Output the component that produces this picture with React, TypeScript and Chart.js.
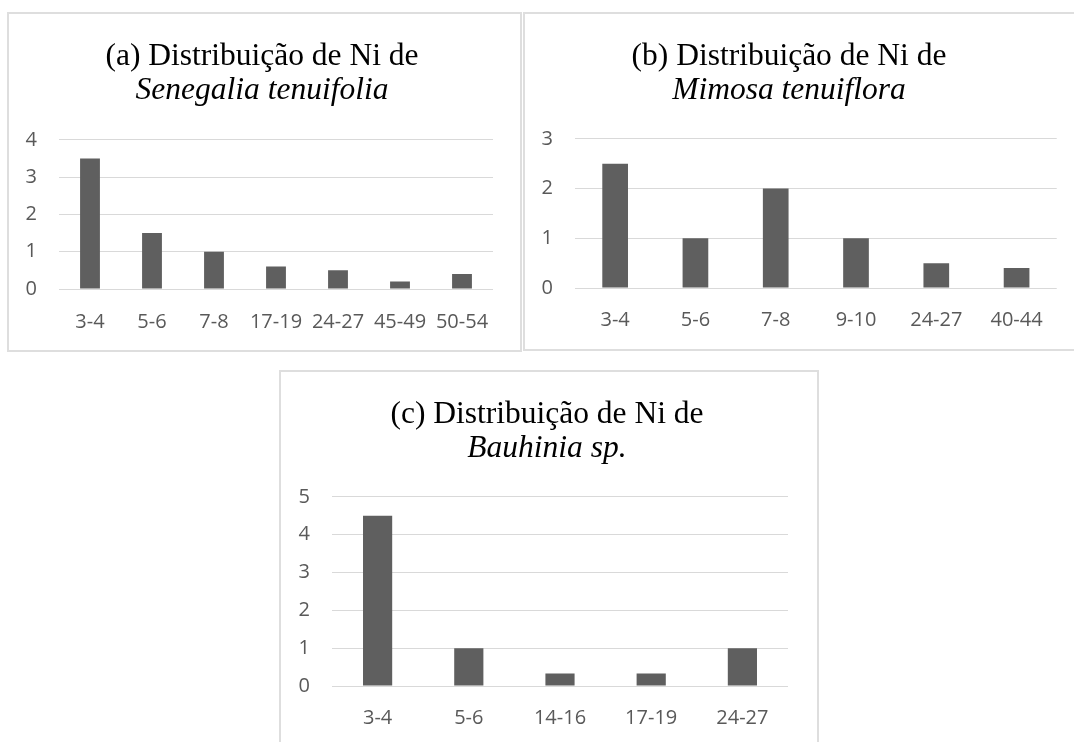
import React, { useEffect, useRef } from "react";
import { Chart, registerables } from "chart.js";

Chart.register(...registerables);

// ---- Data ----
const titleA = "(a) Distribuição de Ni de";
const speciesA = "Senegalia tenuifolia";
const labelsA = ["3-4", "5-6", "7-8", "17-19", "24-27", "45-49", "50-54"];
const valuesA = [3.5, 1.5, 1, 0.6, 0.5, 0.2, 0.4];
const yMaxA = 4;

const titleB = "(b) Distribuição de Ni de";
const speciesB = "Mimosa tenuiflora";
const labelsB = ["3-4", "5-6", "7-8", "9-10", "24-27", "40-44"];
const valuesB = [2.5, 1, 2, 1, 0.5, 0.4];
const yMaxB = 3;

const titleC = "(c) Distribuição de Ni de";
const speciesC = "Bauhinia sp.";
const labelsC = ["3-4", "5-6", "14-16", "17-19", "24-27"];
const valuesC = [4.5, 1, 0.33, 0.33, 1];
const yMaxC = 5;

// ---- Styles ----
const BAR_COLOR = "#5f5f5f";
const GRID_COLOR = "#d9d9d9";
const TICK_COLOR = "#595959";
const SERIF = "'Liberation Serif', 'Times New Roman', serif";
const SANS = "'Open Sans', 'Noto Sans', sans-serif";

type Layout = {
  left: number;
  top: number;
  width: number;
  height: number;
  yWidth: number;
  rightGap: number;
  xHeight: number;
  subPadBottom: number;
  xTickPad: number;
};

type Props = {
  title: string;
  subtitle: string;
  labels: string[];
  values: number[];
  yMax: number;
  layout: Layout;
};

function BarPanel({ title, subtitle, labels, values, yMax, layout }: Props) {
  const ref = useRef<HTMLCanvasElement | null>(null);
  useEffect(() => {
    if (!ref.current) return;
    const chart = new Chart(ref.current, {
      type: "bar",
      data: {
        labels,
        datasets: [
          {
            data: values,
            backgroundColor: BAR_COLOR,
            borderWidth: 0,
            barPercentage: 0.32,
            categoryPercentage: 1,
          },
        ],
      },
      options: {
        responsive: false,
        animation: false,
        devicePixelRatio: 1,
        layout: { padding: 0 },
        plugins: {
          legend: { display: false },
          tooltip: { enabled: false },
          title: {
            display: true,
            text: title,
            color: "#000",
            font: { family: SERIF, size: 31.5, weight: "normal", lineHeight: 1.1 },
            padding: { top: 25, bottom: 0 },
          },
          subtitle: {
            display: true,
            text: subtitle,
            color: "#000",
            font: { family: SERIF, size: 31.5, style: "italic", weight: "normal", lineHeight: 1.1 },
            padding: { top: 0, bottom: layout.subPadBottom },
          },
        },
        scales: {
          x: {
            grid: { display: false, drawTicks: false },
            border: { display: false },
            ticks: {
              color: TICK_COLOR,
              font: { family: SANS, size: 20, lineHeight: 1.2 },
              padding: layout.xTickPad,
              maxRotation: 0,
              autoSkip: false,
            },
            afterFit: (scale: any) => {
              scale.height = layout.xHeight;
            },
          },
          y: {
            min: 0,
            max: yMax,
            grid: { color: GRID_COLOR, lineWidth: 1, drawTicks: false },
            border: { display: false },
            ticks: {
              stepSize: 1,
              color: TICK_COLOR,
              font: { family: SANS, size: 20 },
              padding: 22,
            },
            afterFit: (scale: any) => {
              scale.width = layout.yWidth;
            },
          },
          gap: {
            type: "linear",
            position: "right",
            grid: { display: false, drawTicks: false },
            border: { display: false },
            ticks: { display: false },
            afterFit: (scale: any) => {
              scale.width = layout.rightGap;
            },
          },
        },
      },
    });
    return () => chart.destroy();
  }, []);
  return (
    <canvas
      ref={ref}
      width={layout.width}
      height={layout.height}
      style={{
        position: "absolute",
        left: layout.left,
        top: layout.top,
        width: layout.width,
        height: layout.height,
      }}
    />
  );
}

const boxStyle = (l: number, t: number, w: number, h: number): React.CSSProperties => ({
  position: "absolute",
  left: l,
  top: t,
  width: w,
  height: h,
  border: "2px solid #dedede",
  boxSizing: "border-box",
  background: "#fff",
});

export default function App() {
  return (
    <div
      style={{
        position: "absolute",
        left: 0,
        top: 0,
        width: 1074,
        height: 742,
        background: "#fff",
        overflow: "hidden",
      }}
    >
      <div style={boxStyle(7, 12, 515, 340)} />
      <div style={boxStyle(523, 12, 560, 339)} />
      <div style={boxStyle(279, 370, 540, 400)} />
      <BarPanel
        title={titleA}
        subtitle={speciesA}
        labels={labelsA}
        values={valuesA}
        yMax={yMaxA}
        layout={{
          left: 9,
          top: 14,
          width: 506,
          height: 336,
          yWidth: 50,
          rightGap: 22,
          xHeight: 61,
          subPadBottom: 31.5,
          xTickPad: 21,
        }}
      />
      <BarPanel
        title={titleB}
        subtitle={speciesB}
        labels={labelsB}
        values={valuesB}
        yMax={yMaxB}
        layout={{
          left: 515,
          top: 14,
          width: 548,
          height: 335,
          yWidth: 60,
          rightGap: 4,
          xHeight: 61,
          subPadBottom: 30.5,
          xTickPad: 20,
        }}
      />
      <BarPanel
        title={titleC}
        subtitle={speciesC}
        labels={labelsC}
        values={valuesC}
        yMax={yMaxC}
        layout={{
          left: 281,
          top: 372,
          width: 532,
          height: 370,
          yWidth: 51,
          rightGap: 25,
          xHeight: 56,
          subPadBottom: 30.5,
          xTickPad: 20,
        }}
      />
    </div>
  );
}
